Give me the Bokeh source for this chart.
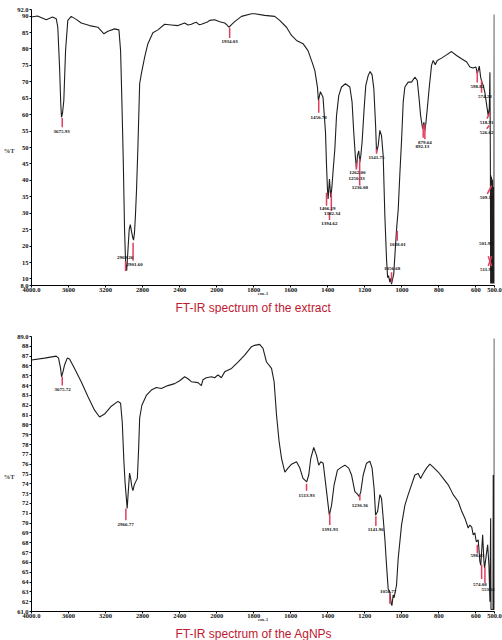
import numpy as np
from bokeh.plotting import figure
from bokeh.models import FixedTicker, Range1d, LinearAxis, Title
from bokeh.layouts import column
from bokeh.embed import file_html
from bokeh.resources import INLINE
from bokeh.core.properties import value

# ---------------- data ----------------
x_tick_wn = [4000, 3600, 3200, 2800, 2400, 2000, 1800, 1600, 1400, 1200, 1000, 800, 600, 500]
x_tick_labels = ["4000.0", "3600", "3200", "2800", "2400", "2000", "1800", "1600",
                 "1400", "1200", "1000", "800", "600", "500.0"]

top_y_ticks = [8, 10, 15, 20, 25, 30, 35, 40, 45, 50, 55, 60, 65, 70, 75, 80, 85, 90, 92]
top_y_labels = ["8.0", "10", "15", "20", "25", "30", "35", "40", "45", "50", "55", "60",
                "65", "70", "75", "80", "85", "90", "92.0"]
bot_y_ticks = list(range(61, 90))
bot_y_labels = ["61.0"] + [str(v) for v in range(62, 89)] + ["89.0"]

# FT-IR spectrum of the extract
top_wn = [4000, 3935, 3841, 3773, 3733, 3716, 3697, 3684, 3675.93, 3665, 3651, 3632, 3608,
          3571, 3517, 3463, 3373, 3283, 3218, 3175, 3103, 3056, 3038, 3024, 3009, 2995,
          2984, 2972, 2958, 2945, 2933, 2920, 2906, 2898, 2888, 2878, 2866, 2851, 2832,
          2814, 2778, 2743, 2689, 2635, 2562, 2490, 2418, 2346, 2310, 2274, 2245, 2219,
          2190, 2165, 2130, 2100, 2076, 2022, 1984, 1957, 1945, 1934, 1920, 1903, 1866,
          1812, 1795, 1741, 1687, 1660, 1623, 1596, 1569, 1534, 1507, 1485, 1470, 1456,
          1450.78, 1440, 1426, 1412.5, 1407, 1402, 1398.5, 1394.6, 1391, 1387, 1384, 1378,
          1370, 1362, 1353, 1341, 1326, 1305, 1281, 1269, 1260, 1250.4, 1245, 1240, 1233,
          1227, 1222, 1215, 1204, 1195, 1182, 1171.5, 1161, 1151.5, 1142, 1137, 1128, 1119,
          1110, 1101, 1092, 1083, 1077, 1072, 1065, 1060, 1056, 1050, 1044, 1038, 1029,
          1020, 1011, 1002, 993, 984, 966, 948, 930, 917, 907, 899, 888, 881, 876, 870,
          863, 853, 840, 831, 820, 809, 786, 759, 732, 705, 678, 650, 633, 615, 600, 593,
          582, 575, 568, 561, 552, 542, 534, 528, 524.6, 522, 520.8, 519.5, 518, 516.5,
          515, 513.5, 512, 510.5, 509, 507.5, 506, 504.5, 503, 501.4, 500.6, 500]
top_T = [89.7, 90.0, 88.9, 89.7, 89.2, 86.6, 74.5, 63.3, 59.2, 60.5, 64.3, 79.5, 88.7,
         89.9, 89.0, 87.9, 87.1, 86.6, 84.6, 85.4, 86.1, 85.8, 79.5, 64.3, 46.0, 25.0,
         15.0, 12.5, 19.0, 25.0, 26.5, 24.5, 22.5, 21.8, 24.0, 29.0, 37.0, 50.0, 69.4,
         72.4, 77.5, 81.6, 84.9, 85.8, 87.5, 87.3, 87.1, 87.9, 87.3, 87.5, 87.9, 88.1,
         87.4, 87.5, 87.9, 88.2, 88.7, 88.9, 88.3, 87.9, 87.3, 86.6, 87.4, 88.3, 89.9,
         90.7, 90.7, 90.2, 89.9, 88.7, 86.6, 84.1, 82.6, 81.6, 79.5, 76.0, 73.4, 68.4,
         64.3, 67.0, 65.3, 54.6, 44.5, 37.4, 34.3, 37.5, 40.4, 37.0, 34.8, 38.0,
         44.0, 49.6, 59.7, 65.8, 68.4, 69.4, 68.4, 63.8, 54.6, 46.5, 43.5, 47.5, 49.0,
         45.5, 47.5, 51.6, 61.8, 68.9, 71.9, 73.1, 72.1, 67.9, 56.7, 48.5, 50.6, 55.2,
         53.6, 47.5, 29.2, 16.0, 10.4, 11.0, 9.0, 10.2, 8.4, 10.0, 11.5, 17.0, 25.0,
         31.0, 42.0, 52.0, 63.8, 68.4, 69.9, 69.9, 71.4, 70.4, 64.8, 59.7, 55.7, 57.7, 55.2, 57.7,
         61.8, 67.9, 75.0, 76.5, 75.2, 76.5, 77.2, 78.2, 79.2, 78.0, 77.0, 76.0, 74.5, 74.2, 74.5, 72.4,
         74.8, 71.4, 69.9, 68.9, 66.8, 62.8, 59.7, 62.0, 72.9, 41.5, 8.6, 41.5, 8.6, 41.0,
         8.6, 40.5, 8.6, 40.0, 8.6, 38.0, 8.6, 36.0, 8.6, 90.5, 8.6, 8.6]

top_lbl_text = ["3675.93", "2969.26", "2901.60", "1934.03", "1450.78", "1406.19", "1382.34",
                "1394.62", "1262.00", "1250.33", "1236.08", "1141.75", "1056.68", "1028.01",
                "879.64", "892.13", "598.82", "574.28", "518.91", "526.62", "509.12",
                "501.98", "511.95"]
top_lbl_wn = [3676, 2989, 2886, 1930, 1449, 1402, 1377, 1391, 1240, 1245, 1227, 1137, 1053,
              1023, 876, 890, 593, 552, 542, 542, 542, 546, 542]
top_lbl_T = [54.85, 16.6, 14.3, 82.3, 59.2, 31.5, 29.9, 27.0, 42.4, 40.7, 37.7, 47.0, 13.2,
             20.6, 51.6, 50.2, 68.7, 65.6, 57.7, 54.6, 34.8, 20.8, 13.0]
top_mk_x0 = [3668, 2984, 2903, 1930, 1449, 1407, 1381, 1391, 1246, 1228, 1137, 1025, 1056,
             885, 876, 593, 570, 524.6, 528.2, 515.4, 533.8, 533.8]
top_mk_y0 = [59.0, 15.4, 21.0, 86.4, 64.5, 36.2, 36.2, 30.2, 45.5, 46.6, 49.6, 24.7, 12.0,
             57.0, 57.0, 73.4, 70.4, 60.6, 56.7, 38.4, 16.9, 13.9]
top_mk_x1 = [3668, 2984, 2903, 1930, 1449, 1407, 1381, 1391, 1246, 1228, 1137, 1025, 1056,
             885, 876, 593, 570, 540.8, 542.4, 539.0, 515.4, 515.4]
top_mk_y1 = [56.2, 12.4, 15.5, 83.3, 60.6, 32.3, 30.7, 27.9, 43.3, 38.4, 48.1, 21.6, 8.9,
             53.0, 52.5, 69.8, 66.7, 58.8, 55.7, 35.9, 13.9, 16.9]

# FT-IR spectrum of the AgNPs
bot_wn = [4000, 3859, 3733, 3708, 3686, 3675.72, 3660, 3643, 3614, 3589, 3535, 3463, 3391,
          3319, 3265, 3211, 3138, 3067, 3038, 3020, 3002, 2990, 2978, 2966.77, 2955, 2941,
          2930, 2918, 2905, 2890, 2870, 2857, 2843, 2832, 2808, 2760, 2706, 2652, 2598,
          2527, 2454, 2400, 2346, 2310, 2274, 2202, 2166, 2148, 2112, 2057, 2022, 1993,
          1975, 1957, 1920, 1885, 1849, 1812, 1795, 1768, 1750, 1731, 1704, 1690, 1677,
          1663, 1650, 1632, 1615, 1596, 1569, 1551, 1534, 1513.93, 1503, 1492, 1476, 1461,
          1449, 1438, 1425, 1413, 1398, 1391.93, 1380, 1366, 1348, 1326, 1308, 1287, 1272,
          1254, 1240, 1230.36, 1222, 1209, 1191, 1173, 1161, 1150, 1141.96, 1131, 1119,
          1110, 1101, 1092, 1083, 1074, 1065, 1058, 1054, 1047, 1042, 1029, 1020, 1002, 984,
          966, 948, 930, 912, 899, 885, 867, 849, 831, 804, 777, 750, 723, 696, 677, 660,
          642, 633, 623, 615, 606, 598.43, 588, 579, 574.08, 564, 557, 553.68, 542, 537,
          530, 524.6, 520.8, 519, 508, 506.8, 505.5, 502, 501.2, 500.5, 500]
bot_T = [86.6, 86.8, 87.0, 86.8, 85.75, 84.9, 85.4, 86.1, 86.8, 86.7, 85.75, 84.4, 82.9,
         81.5, 80.8, 81.1, 81.9, 82.4, 82.2, 80.3, 76.25, 74.2, 72.8, 71.5, 73.2, 75.1,
         74.6, 73.8, 73.3, 73.9, 74.3, 74.55, 77.6, 80.7, 82.0, 83.0, 83.55, 83.8, 83.7,
         84.0, 84.2, 84.5, 84.9, 84.7, 84.4, 84.3, 84.0, 84.6, 84.8, 84.9, 84.8, 85.1,
         84.8, 85.4, 85.75, 86.4, 87.1, 87.96, 88.1, 88.2, 87.8, 86.4, 85.75, 84.4, 81.0,
         78.3, 76.6, 75.2, 75.6, 76.0, 76.25, 75.6, 74.55, 74.2, 74.9, 76.6, 77.7, 76.9,
         75.9, 76.25, 76.1, 74.2, 71.8, 70.8, 71.8, 73.9, 75.4, 75.7, 75.9, 75.6, 74.9,
         73.2, 72.95, 72.7, 73.2, 74.9, 76.1, 76.3, 75.6, 73.5, 70.8, 71.2, 72.9,
         72.5, 70.5, 68.4, 65.7, 63.3, 63.0, 61.8, 61.6, 62.7, 62.4, 63.7, 66.4, 69.8, 71.8,
         72.9, 73.9, 74.9, 75.05, 74.55, 75.05, 75.6, 76.0, 75.7, 75.2, 74.55, 73.9, 72.9, 72.2, 71.2, 70.5,
         69.5, 69.8, 69.6, 68.8, 69.0, 68.1, 68.3, 66.1, 65.7, 68.8, 66.1, 65.4, 67.1, 67.8,
         65.7, 62.0, 70.5, 61.2, 61.2, 74.9, 61.2, 61.2, 88.8, 61.2, 61.2]

bot_lbl_text = ["3675.72", "2966.77", "1513.93", "1391.93", "1230.36", "1141.96", "1056.77",
                "598.43", "574.08", "553.68"]
bot_lbl_wn = [3665, 2984, 1515, 1389.5, 1227, 1140.6, 1074, 593, 578.6, 533.7]
bot_lbl_T = [83.63, 69.87, 72.86, 69.3, 71.84, 69.3, 63.08, 66.68, 63.7, 63.29]
bot_mk_x0 = [3668, 2981, 1515, 1389.5, 1227, 1140.6, 1065, 593, 569.5, 551.6]
bot_mk_y0 = [84.9, 71.5, 74.0, 71.0, 72.9, 70.7, 62.8, 67.8, 65.75, 65.5]
bot_mk_x1 = bot_mk_x0
bot_mk_y1 = [84.0, 70.3, 73.3, 69.8, 72.3, 69.7, 61.8, 66.9, 64.3, 63.9]


# ------------- axis transform (split scale at 2000 cm-1) -------------
def to_axis(wn):
    wn = np.asarray(wn, dtype=float)
    return np.where(wn >= 2000, (4000.0 - wn) / 400.0, 5.0 + (2000.0 - wn) / 200.0)


SERIF = "Liberation Serif"
SANS = "Liberation Sans"
MARK = "#e0405e"
TITLE_RED = "#c0182f"


def style_axis(ax):
    ax.axis_line_color = "black"
    ax.axis_line_width = 1
    ax.major_tick_line_color = "black"
    ax.major_tick_in = 0
    ax.major_tick_out = 2
    ax.minor_tick_line_color = None
    ax.major_label_standoff = 1
    ax.major_label_text_font = SERIF
    ax.major_label_text_font_style = "bold"
    ax.major_label_text_font_size = "6.5px"
    ax.major_label_text_color = "#111111"


def make_panel(wn, T, yr, yticks, ylabels, lt, lw, lT, mx0, my0, mx1, my1,
               title, pct_y, frame_h, min_top):
    p = figure(frame_width=463, frame_height=frame_h,
               x_range=Range1d(0, 12.5), y_range=Range1d(*yr),
               output_backend="svg", toolbar_location=None,
               min_border_left=27, min_border_right=12,
               min_border_top=min_top, min_border_bottom=5)
    p.outline_line_color = None
    p.xgrid.grid_line_color = None
    p.ygrid.grid_line_color = None

    xt = [float(u) for u in to_axis(x_tick_wn)]
    p.xaxis.ticker = FixedTicker(ticks=xt)
    p.xaxis.major_label_overrides = {u: s for u, s in zip(xt, x_tick_labels)}
    p.yaxis.ticker = FixedTicker(ticks=[float(v) for v in yticks])
    p.yaxis.major_label_overrides = {float(v): s for v, s in zip(yticks, ylabels)}
    style_axis(p.xaxis[0])
    style_axis(p.yaxis[0])
    p.xaxis.major_label_standoff = 0
    p.xaxis.axis_label = "cm-1"
    p.xaxis.axis_label_standoff = -4
    p.xaxis.axis_label_text_font = SERIF
    p.xaxis.axis_label_text_font_style = "bold"
    p.xaxis.axis_label_text_font_size = "5px"

    # "%T" written horizontally to the left of the tick labels
    pct_axis = LinearAxis(ticker=FixedTicker(ticks=[float(pct_y)]),
                          major_label_overrides={float(pct_y): "%T"})
    pct_axis.axis_line_color = None
    pct_axis.major_tick_line_color = None
    pct_axis.minor_tick_line_color = None
    pct_axis.major_tick_in = 0
    pct_axis.major_tick_out = 0
    pct_axis.major_label_standoff = 0
    pct_axis.major_label_text_font = SERIF
    pct_axis.major_label_text_font_style = "bold"
    pct_axis.major_label_text_font_size = "6.5px"
    p.add_layout(pct_axis, "left")

    p.line(to_axis(wn), T, line_color="#1e1e1e", line_width=1.1)
    p.segment(x0=to_axis(mx0), y0=my0, x1=to_axis(mx1), y1=my1,
              line_color=MARK, line_width=1.5)
    p.text(x=to_axis(lw), y=lT, text=lt, text_font=value(SERIF),
           text_font_size=value("5px"), text_font_style="bold",
           text_align="center", text_baseline="middle", text_color="#111111")

    t = Title(text=title, align="left", offset=144, standoff=0,
              text_font=SANS, text_font_style="normal", text_font_size="12px",
              text_color=TITLE_RED)
    p.add_layout(t, "below")
    return p


p1 = make_panel(top_wn, top_T, (8, 92), top_y_ticks, top_y_labels,
                top_lbl_text, top_lbl_wn, top_lbl_T,
                top_mk_x0, top_mk_y0, top_mk_x1, top_mk_y1,
                "FT-IR spectrum of the extract", 49.0, 276, 9)
p2 = make_panel(bot_wn, bot_T, (61, 89), bot_y_ticks, bot_y_labels,
                bot_lbl_text, bot_lbl_wn, bot_lbl_T,
                bot_mk_x0, bot_mk_y0, bot_mk_x1, bot_mk_y1,
                "FT-IR spectrum of the AgNPs", 74.7, 275, 22)

layout = column(p1, p2)
open("out.html", "w").write(file_html(layout, INLINE))
